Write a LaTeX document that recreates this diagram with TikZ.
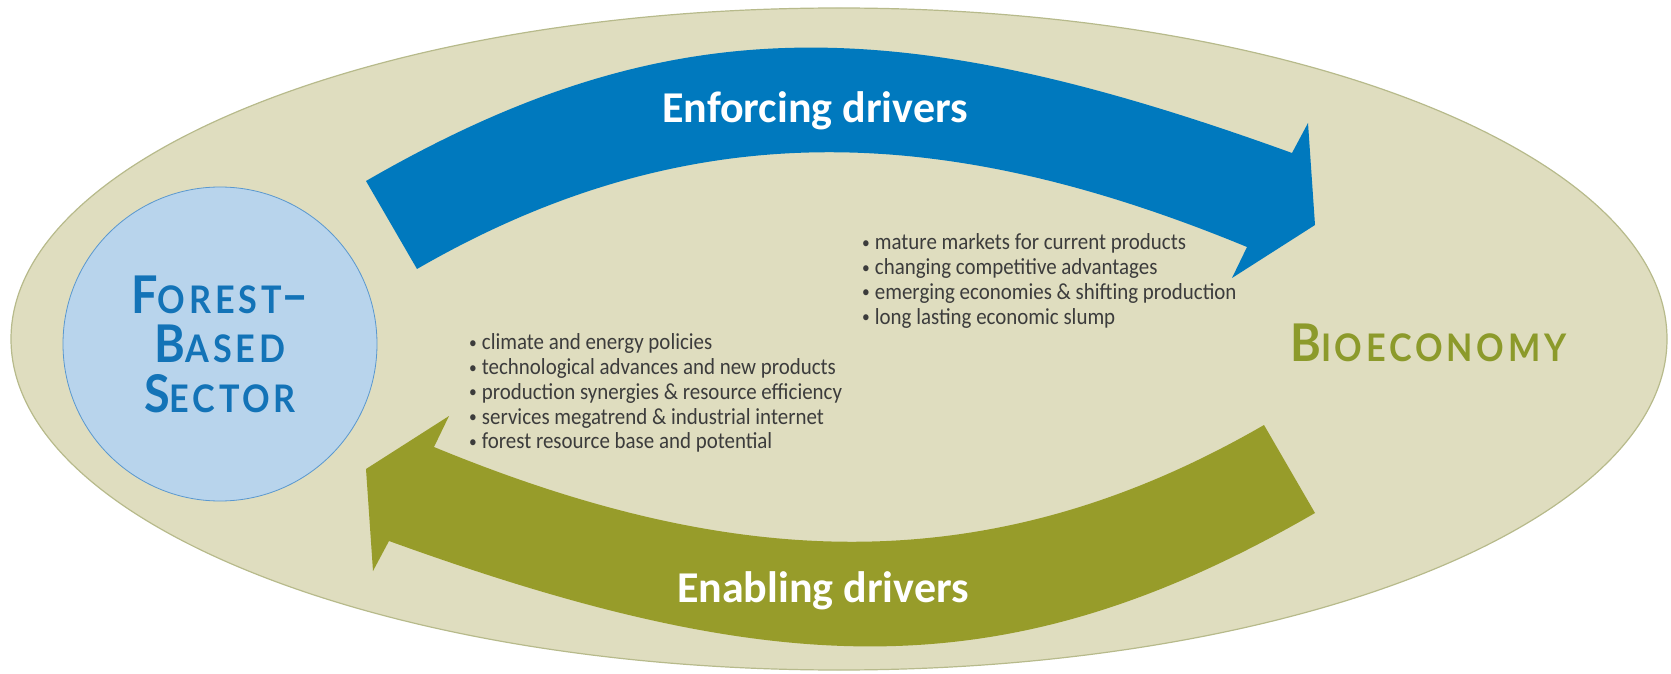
\documentclass[tikz,border=0pt]{standalone}
\usepackage{fontspec}
\setmainfont{Carlito}
\newfontfamily\listfont{Carlito}[FakeStretch=0.91]
\newfontfamily\capsfont{Lato}[LetterSpace=10,FakeStretch=0.9]
\usetikzlibrary{positioning}

\definecolor{fbsblue}{HTML}{0079BE}
\definecolor{fbstext}{HTML}{1373B7}
\definecolor{fbslight}{HTML}{B8D4EC}
\definecolor{fbsline}{HTML}{5A98CF}
\definecolor{bioolive}{HTML}{979C2A}
\definecolor{biotext}{HTML}{8C9A2B}
\definecolor{bgfill}{HTML}{DFDDBF}
\definecolor{bgline}{HTML}{B7BA8B}
\definecolor{itemgray}{HTML}{3C3C3C}

% small caps by hand: big first letter, smaller rest
\newcommand{\bigsc}[2]{{\fontsize{52}{52}\selectfont #1}{\fontsize{38}{38}\selectfont #2}}
\newcommand{\itemdot}{{\fontsize{17}{17}\selectfont\raisebox{1.5pt}{•}}\hspace{5pt}}

\tikzset{
  sector/.style={circle, draw=fbsline, line width=0.8pt, fill=fbslight,
    minimum size=314pt, inner sep=0pt, align=center, text=fbstext,
    font=\capsfont\bfseries\fontsize{38}{49.5}\selectfont},
  bio/.style={anchor=base west, inner sep=0pt, text=biotext,
    font=\capsfont\bfseries\fontsize{38}{38}\selectfont},
  driver/.style={anchor=base, inner sep=0pt, text=white,
    font=\bfseries\fontsize{44}{44}\selectfont},
  item/.style={anchor=base west, inner sep=0pt, text=itemgray,
    font=\listfont\fontsize{23}{25}\selectfont},
}

\begin{document}
\begin{tikzpicture}[x=1pt,y=1pt]
  \useasboundingbox (0,0) rectangle (1671,673);

  % background
  \draw[bgline, fill=bgfill, line width=1.2pt] (839,334) ellipse [x radius=828, y radius=331];

  % curved arrows, the green one is the blue one turned half round
  \foreach \col/\ang in {fbsblue/0, bioolive/180}
    \fill[\col, rotate around={\ang:(840.5,326)}]
      (366,492) .. controls (669,667) and (897,663) .. (1292,520)
      -- (1308,550) -- (1315,448) -- (1232,395) -- (1247,426)
      .. controls (951,548) and (694,564) .. (417,404) -- cycle;

  \node[driver] (enforcing) at (815,550) {Enforcing drivers};
  \node[driver] (enabling)  at (823,71)  {Enabling drivers};

  \node[sector] (fbs) at (220,329)
    {\bigsc{F}{OREST}{\fontsize{52}{52}\selectfont–}\\\bigsc{B}{ASED}\\\bigsc{S}{ECTOR}};
  \node[bio] (bio) at (1290,312) {\bigsc{B}{IOECONOMY}};

  % driver lists
  \foreach \txt [count=\i] in {mature markets for current products,
      changing competitive advantages,
      emerging economies \& shifting production,
      long lasting economic slump}
    \node[item] (enf\i) at (862,{447.7-24.7*\i}) {\itemdot\txt};

  \foreach \txt [count=\i] in {climate and energy policies,
      technological advances and new products,
      production synergies \& resource efficiency,
      services megatrend \& industrial internet,
      forest resource base and potential}
    \node[item] (enb\i) at (469,{347.7-24.7*\i}) {\itemdot\txt};
\end{tikzpicture}
\end{document}
